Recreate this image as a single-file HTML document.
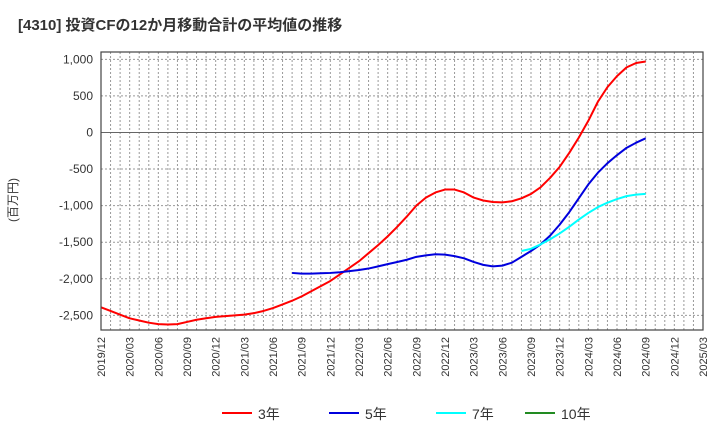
<!DOCTYPE html>
<html><head><meta charset="utf-8"><style>
body{margin:0;background:#fff;}
svg{display:block;font-family:"Liberation Sans","Noto Sans CJK JP",sans-serif;}
</style></head><body>
<svg id="c" width="720" height="440" xmlns="http://www.w3.org/2000/svg">
<text x="18" y="30" font-size="15" font-weight="bold" fill="#333">[4310]  投資CFの12か月移動合計の平均値の推移</text>
<text transform="translate(17,200) rotate(-90)" font-size="12" fill="#333" text-anchor="middle">(百万円)</text>
<g id="grid"></g><g id="series"></g><g id="axes"></g>
<g id="legend"></g>
</svg>
<script>
const ticksY=[1000,500,0,-500,-1000,-1500,-2000,-2500];
const tickYLabels=["1,000","500","0","-500","-1,000","-1,500","-2,000","-2,500"];
const xLabels=["2019/12","2020/03","2020/06","2020/09","2020/12","2021/03","2021/06","2021/09","2021/12","2022/03","2022/06","2022/09","2022/12","2023/03","2023/06","2023/09","2023/12","2024/03","2024/06","2024/09","2024/12","2025/03"];
const s3Start=0;
const s3=[-2390,-2440,-2490,-2540,-2570,-2600,-2620,-2625,-2620,-2590,-2560,-2540,-2520,-2510,-2500,-2490,-2470,-2440,-2400,-2350,-2300,-2240,-2170,-2100,-2030,-1940,-1850,-1760,-1650,-1540,-1420,-1290,-1150,-1000,-890,-820,-780,-780,-820,-890,-930,-950,-955,-940,-900,-840,-750,-620,-470,-280,-70,160,420,620,770,890,950,970];
const s5Start=20;
const s5=[-1920,-1930,-1930,-1925,-1920,-1910,-1895,-1880,-1860,-1830,-1800,-1770,-1740,-1700,-1680,-1665,-1670,-1690,-1720,-1770,-1810,-1830,-1820,-1780,-1700,-1620,-1530,-1410,-1260,-1090,-900,-710,-550,-420,-310,-210,-140,-80];
const s7Start=44;
const s7=[-1620,-1590,-1530,-1460,-1380,-1290,-1190,-1100,-1020,-960,-910,-870,-850,-840];
const s10=[];
const L=101,R=703,T=52,B=330;
const yMin=-2700,yMax=1100,nMonths=63;
const xs=m=>L+m*(R-L)/nMonths;
const ys=v=>T+(yMax-v)/(yMax-yMin)*(B-T);
const NS="http://www.w3.org/2000/svg";
function mk(tag,parent,attrs){const e=document.createElementNS(NS,tag);for(const k in attrs)e.setAttribute(k,attrs[k]);document.getElementById(parent).appendChild(e);return e;}
for(let m=1;m<nMonths;m++){
 const l=mk('line','grid',{x1:xs(m),x2:xs(m),y1:T,y2:B,stroke:'#999','stroke-dasharray':'2,2','stroke-width':1});
 
 
}
ticksY.forEach((v,i)=>{
 const l=mk('line','grid',{x1:L,x2:R,y1:ys(v),y2:ys(v),stroke:v===0?'#666':'#999','stroke-dasharray':v===0?'none':'2,2','stroke-width':1});
 
 
 const t=mk('text','axes',{x:93,y:ys(v)+4,'font-size':12,'text-anchor':'end',fill:'#333'});
 t.textContent=tickYLabels[i];
 
 
});
xLabels.forEach((s,i)=>{
 const x=xs(i*3);
 const t=mk('text','axes',{transform:`translate(${x+4},337) rotate(-90)`,'font-size':11,'text-anchor':'end',fill:'#333'});
 t.textContent=s;
 
 
});
const fr=mk('rect','axes',{x:L,y:T,width:R-L,height:B-T,fill:'none',stroke:'#444','stroke-width':1.2});


function line(data,start,color,name){
 if(!data.length)return;
 const p=mk('polyline','series',{points:data.map((v,i)=>xs(start+i)+','+ys(v)).join(' '),fill:'none',stroke:color,'stroke-width':2,'stroke-linejoin':'round'});
 
 
}
line(s3,s3Start,'#ff0000','series-3yr');
line(s5,s5Start,'#0000dd','series-5yr');
line(s7,s7Start,'#00ffff','series-7yr');
line(s10,0,'#228b22','series-10yr');
const leg=[["3年","#ff0000",222],["5年","#0000dd",329],["7年","#00ffff",436],["10年","#228b22",525]];
leg.forEach(d=>{
 const g=mk('g','legend',{});
 
 
 const l=document.createElementNS(NS,'line');
 l.setAttribute('x1',d[2]);l.setAttribute('x2',d[2]+30);l.setAttribute('y1',413);l.setAttribute('y2',413);
 l.setAttribute('stroke',d[1]);l.setAttribute('stroke-width',2);
 g.appendChild(l);
 const t=document.createElementNS(NS,'text');
 t.setAttribute('x',d[2]+36);t.setAttribute('y',419);t.setAttribute('font-size',14);t.setAttribute('fill','#333');
 t.textContent=d[0];
 g.appendChild(t);
});
</script>
</body></html>
